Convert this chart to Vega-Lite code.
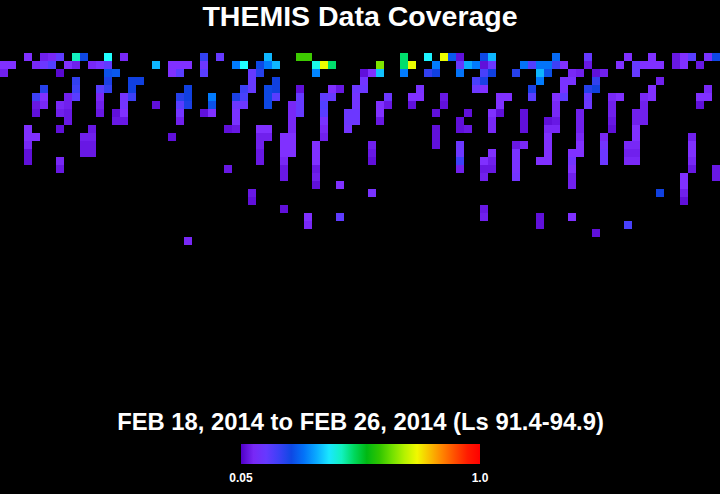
{"$schema":"https://vega.github.io/schema/vega-lite/v6.json","width":720,"height":360,"autosize":{"type":"none"},"padding":{"left":0,"top":53,"right":0,"bottom":81},"background":"#000000","title":{"text":"THEMIS Data Coverage","color":"#ffffff","font":"Liberation Sans","fontWeight":"bold","fontSize":28.5,"anchor":"middle","offset":22},"config":{"view":{"stroke":null}},"data":{"values":[
{"c":3,"r":0,"v":0.11},{"c":5,"r":0,"v":0.09},{"c":6,"r":0,"v":0.1},{"c":7,"r":0,"v":0.16},{"c":9,"r":0,"v":0.45},{"c":10,"r":0,"v":0.25},{"c":13,"r":0,"v":0.42},{"c":15,"r":0,"v":0.1},{"c":25,"r":0,"v":0.21},{"c":27,"r":0,"v":0.15},{"c":33,"r":0,"v":0.36},{"c":37,"r":0,"v":0.61},{"c":38,"r":0,"v":0.61},{"c":50,"r":0,"v":0.49},{"c":53,"r":0,"v":0.41},{"c":55,"r":0,"v":0.74},{"c":56,"r":0,"v":0.27},{"c":57,"r":0,"v":0.07},{"c":60,"r":0,"v":0.25},{"c":61,"r":0,"v":0.36},{"c":69,"r":0,"v":0.29},{"c":73,"r":0,"v":0.15},{"c":78,"r":0,"v":0.11},{"c":81,"r":0,"v":0.11},{"c":84,"r":0,"v":0.08},{"c":85,"r":0,"v":0.11},{"c":86,"r":0,"v":0.17},{"c":88,"r":0,"v":0.12},{"c":89,"r":0,"v":0.25},
{"c":0,"r":1,"v":0.11},{"c":1,"r":1,"v":0.11},{"c":4,"r":1,"v":0.1},{"c":5,"r":1,"v":0.14},{"c":6,"r":1,"v":0.18},{"c":8,"r":1,"v":0.11},{"c":9,"r":1,"v":0.09},{"c":11,"r":1,"v":0.1},{"c":12,"r":1,"v":0.12},{"c":13,"r":1,"v":0.16},{"c":19,"r":1,"v":0.36},{"c":21,"r":1,"v":0.11},{"c":22,"r":1,"v":0.11},{"c":23,"r":1,"v":0.11},{"c":25,"r":1,"v":0.14},{"c":29,"r":1,"v":0.31},{"c":30,"r":1,"v":0.42},{"c":32,"r":1,"v":0.25},{"c":33,"r":1,"v":0.31},{"c":34,"r":1,"v":0.36},{"c":39,"r":1,"v":0.43},{"c":40,"r":1,"v":0.74},{"c":41,"r":1,"v":0.49},{"c":47,"r":1,"v":0.66},{"c":50,"r":1,"v":0.49},{"c":51,"r":1,"v":0.74},{"c":54,"r":1,"v":0.31},{"c":57,"r":1,"v":0.15},{"c":58,"r":1,"v":0.35},{"c":59,"r":1,"v":0.31},{"c":60,"r":1,"v":0.07},{"c":61,"r":1,"v":0.14},{"c":65,"r":1,"v":0.3},{"c":66,"r":1,"v":0.18},{"c":67,"r":1,"v":0.3},{"c":68,"r":1,"v":0.3},{"c":69,"r":1,"v":0.2},{"c":70,"r":1,"v":0.11},{"c":73,"r":1,"v":0.08},{"c":77,"r":1,"v":0.11},{"c":79,"r":1,"v":0.15},{"c":80,"r":1,"v":0.11},{"c":81,"r":1,"v":0.11},{"c":82,"r":1,"v":0.11},{"c":84,"r":1,"v":0.08},{"c":85,"r":1,"v":0.11},{"c":87,"r":1,"v":0.08},
{"c":0,"r":2,"v":0.09},{"c":7,"r":2,"v":0.06},{"c":13,"r":2,"v":0.26},{"c":14,"r":2,"v":0.27},{"c":21,"r":2,"v":0.11},{"c":22,"r":2,"v":0.17},{"c":25,"r":2,"v":0.17},{"c":31,"r":2,"v":0.15},{"c":32,"r":2,"v":0.22},{"c":39,"r":2,"v":0.32},{"c":45,"r":2,"v":0.07},{"c":46,"r":2,"v":0.11},{"c":47,"r":2,"v":0.37},{"c":50,"r":2,"v":0.31},{"c":53,"r":2,"v":0.21},{"c":54,"r":2,"v":0.24},{"c":57,"r":2,"v":0.3},{"c":60,"r":2,"v":0.19},{"c":61,"r":2,"v":0.24},{"c":64,"r":2,"v":0.22},{"c":67,"r":2,"v":0.36},{"c":68,"r":2,"v":0.26},{"c":71,"r":2,"v":0.1},{"c":72,"r":2,"v":0.09},{"c":74,"r":2,"v":0.07},{"c":75,"r":2,"v":0.09},{"c":79,"r":2,"v":0.15},
{"c":9,"r":3,"v":0.21},{"c":13,"r":3,"v":0.23},{"c":16,"r":3,"v":0.24},{"c":17,"r":3,"v":0.24},{"c":31,"r":3,"v":0.15},{"c":34,"r":3,"v":0.24},{"c":45,"r":3,"v":0.13},{"c":59,"r":3,"v":0.19},{"c":60,"r":3,"v":0.23},{"c":67,"r":3,"v":0.31},{"c":70,"r":3,"v":0.12},{"c":71,"r":3,"v":0.12},{"c":74,"r":3,"v":0.21},{"c":82,"r":3,"v":0.09},
{"c":5,"r":4,"v":0.22},{"c":9,"r":4,"v":0.2},{"c":12,"r":4,"v":0.17},{"c":13,"r":4,"v":0.21},{"c":16,"r":4,"v":0.24},{"c":23,"r":4,"v":0.24},{"c":30,"r":4,"v":0.2},{"c":31,"r":4,"v":0.15},{"c":33,"r":4,"v":0.25},{"c":34,"r":4,"v":0.24},{"c":37,"r":4,"v":0.07},{"c":41,"r":4,"v":0.11},{"c":42,"r":4,"v":0.08},{"c":44,"r":4,"v":0.14},{"c":45,"r":4,"v":0.14},{"c":52,"r":4,"v":0.12},{"c":59,"r":4,"v":0.14},{"c":60,"r":4,"v":0.11},{"c":66,"r":4,"v":0.23},{"c":70,"r":4,"v":0.12},{"c":73,"r":4,"v":0.22},{"c":74,"r":4,"v":0.24},{"c":81,"r":4,"v":0.11},{"c":88,"r":4,"v":0.1},
{"c":4,"r":5,"v":0.2},{"c":5,"r":5,"v":0.11},{"c":8,"r":5,"v":0.09},{"c":9,"r":5,"v":0.17},{"c":12,"r":5,"v":0.1},{"c":15,"r":5,"v":0.13},{"c":16,"r":5,"v":0.2},{"c":22,"r":5,"v":0.22},{"c":23,"r":5,"v":0.24},{"c":26,"r":5,"v":0.31},{"c":29,"r":5,"v":0.23},{"c":30,"r":5,"v":0.19},{"c":33,"r":5,"v":0.25},{"c":34,"r":5,"v":0.17},{"c":37,"r":5,"v":0.15},{"c":40,"r":5,"v":0.16},{"c":41,"r":5,"v":0.15},{"c":44,"r":5,"v":0.13},{"c":48,"r":5,"v":0.14},{"c":51,"r":5,"v":0.11},{"c":52,"r":5,"v":0.11},{"c":55,"r":5,"v":0.08},{"c":62,"r":5,"v":0.11},{"c":63,"r":5,"v":0.11},{"c":66,"r":5,"v":0.17},{"c":69,"r":5,"v":0.11},{"c":70,"r":5,"v":0.16},{"c":73,"r":5,"v":0.15},{"c":76,"r":5,"v":0.1},{"c":77,"r":5,"v":0.11},{"c":80,"r":5,"v":0.1},{"c":81,"r":5,"v":0.11},{"c":87,"r":5,"v":0.11},{"c":88,"r":5,"v":0.11},
{"c":4,"r":6,"v":0.08},{"c":5,"r":6,"v":0.1},{"c":7,"r":6,"v":0.1},{"c":8,"r":6,"v":0.09},{"c":12,"r":6,"v":0.09},{"c":15,"r":6,"v":0.13},{"c":19,"r":6,"v":0.07},{"c":22,"r":6,"v":0.17},{"c":23,"r":6,"v":0.23},{"c":26,"r":6,"v":0.26},{"c":29,"r":6,"v":0.14},{"c":30,"r":6,"v":0.14},{"c":33,"r":6,"v":0.25},{"c":36,"r":6,"v":0.1},{"c":37,"r":6,"v":0.15},{"c":40,"r":6,"v":0.18},{"c":44,"r":6,"v":0.13},{"c":47,"r":6,"v":0.11},{"c":48,"r":6,"v":0.08},{"c":51,"r":6,"v":0.07},{"c":55,"r":6,"v":0.07},{"c":62,"r":6,"v":0.11},{"c":69,"r":6,"v":0.1},{"c":73,"r":6,"v":0.14},{"c":76,"r":6,"v":0.09},{"c":80,"r":6,"v":0.09},{"c":87,"r":6,"v":0.07},
{"c":4,"r":7,"v":0.07},{"c":7,"r":7,"v":0.09},{"c":8,"r":7,"v":0.08},{"c":12,"r":7,"v":0.08},{"c":14,"r":7,"v":0.07},{"c":15,"r":7,"v":0.11},{"c":22,"r":7,"v":0.13},{"c":25,"r":7,"v":0.07},{"c":26,"r":7,"v":0.11},{"c":29,"r":7,"v":0.12},{"c":36,"r":7,"v":0.1},{"c":37,"r":7,"v":0.15},{"c":40,"r":7,"v":0.17},{"c":43,"r":7,"v":0.14},{"c":44,"r":7,"v":0.14},{"c":47,"r":7,"v":0.11},{"c":54,"r":7,"v":0.07},{"c":58,"r":7,"v":0.07},{"c":61,"r":7,"v":0.11},{"c":62,"r":7,"v":0.07},{"c":65,"r":7,"v":0.07},{"c":69,"r":7,"v":0.1},{"c":72,"r":7,"v":0.09},{"c":76,"r":7,"v":0.09},{"c":79,"r":7,"v":0.09},{"c":80,"r":7,"v":0.09},
{"c":8,"r":8,"v":0.08},{"c":14,"r":8,"v":0.08},{"c":15,"r":8,"v":0.08},{"c":22,"r":8,"v":0.09},{"c":29,"r":8,"v":0.12},{"c":36,"r":8,"v":0.1},{"c":40,"r":8,"v":0.12},{"c":43,"r":8,"v":0.14},{"c":44,"r":8,"v":0.14},{"c":47,"r":8,"v":0.08},{"c":57,"r":8,"v":0.07},{"c":61,"r":8,"v":0.1},{"c":65,"r":8,"v":0.07},{"c":68,"r":8,"v":0.07},{"c":69,"r":8,"v":0.08},{"c":72,"r":8,"v":0.09},{"c":76,"r":8,"v":0.08},{"c":79,"r":8,"v":0.09},{"c":80,"r":8,"v":0.09},
{"c":3,"r":9,"v":0.11},{"c":7,"r":9,"v":0.07},{"c":11,"r":9,"v":0.08},{"c":28,"r":9,"v":0.07},{"c":29,"r":9,"v":0.08},{"c":32,"r":9,"v":0.11},{"c":33,"r":9,"v":0.11},{"c":36,"r":9,"v":0.1},{"c":40,"r":9,"v":0.1},{"c":43,"r":9,"v":0.13},{"c":54,"r":9,"v":0.07},{"c":57,"r":9,"v":0.07},{"c":58,"r":9,"v":0.08},{"c":61,"r":9,"v":0.1},{"c":65,"r":9,"v":0.07},{"c":68,"r":9,"v":0.1},{"c":69,"r":9,"v":0.1},{"c":72,"r":9,"v":0.09},{"c":76,"r":9,"v":0.07},{"c":79,"r":9,"v":0.11},
{"c":3,"r":10,"v":0.11},{"c":4,"r":10,"v":0.11},{"c":10,"r":10,"v":0.09},{"c":11,"r":10,"v":0.09},{"c":21,"r":10,"v":0.07},{"c":32,"r":10,"v":0.09},{"c":33,"r":10,"v":0.09},{"c":35,"r":10,"v":0.11},{"c":36,"r":10,"v":0.11},{"c":40,"r":10,"v":0.09},{"c":54,"r":10,"v":0.07},{"c":68,"r":10,"v":0.11},{"c":72,"r":10,"v":0.1},{"c":75,"r":10,"v":0.1},{"c":79,"r":10,"v":0.11},{"c":86,"r":10,"v":0.09},
{"c":3,"r":11,"v":0.1},{"c":10,"r":11,"v":0.08},{"c":11,"r":11,"v":0.08},{"c":32,"r":11,"v":0.09},{"c":35,"r":11,"v":0.11},{"c":36,"r":11,"v":0.11},{"c":39,"r":11,"v":0.11},{"c":46,"r":11,"v":0.09},{"c":54,"r":11,"v":0.07},{"c":57,"r":11,"v":0.14},{"c":64,"r":11,"v":0.08},{"c":65,"r":11,"v":0.1},{"c":68,"r":11,"v":0.11},{"c":72,"r":11,"v":0.11},{"c":75,"r":11,"v":0.13},{"c":78,"r":11,"v":0.1},{"c":79,"r":11,"v":0.1},{"c":86,"r":11,"v":0.11},
{"c":3,"r":12,"v":0.07},{"c":10,"r":12,"v":0.08},{"c":11,"r":12,"v":0.08},{"c":32,"r":12,"v":0.08},{"c":35,"r":12,"v":0.11},{"c":36,"r":12,"v":0.11},{"c":39,"r":12,"v":0.11},{"c":46,"r":12,"v":0.08},{"c":57,"r":12,"v":0.14},{"c":61,"r":12,"v":0.11},{"c":64,"r":12,"v":0.12},{"c":68,"r":12,"v":0.11},{"c":71,"r":12,"v":0.11},{"c":72,"r":12,"v":0.11},{"c":75,"r":12,"v":0.14},{"c":78,"r":12,"v":0.09},{"c":79,"r":12,"v":0.09},{"c":86,"r":12,"v":0.11},
{"c":3,"r":13,"v":0.07},{"c":7,"r":13,"v":0.1},{"c":32,"r":13,"v":0.08},{"c":35,"r":13,"v":0.1},{"c":39,"r":13,"v":0.11},{"c":46,"r":13,"v":0.07},{"c":57,"r":13,"v":0.2},{"c":60,"r":13,"v":0.11},{"c":61,"r":13,"v":0.09},{"c":64,"r":13,"v":0.12},{"c":67,"r":13,"v":0.11},{"c":68,"r":13,"v":0.11},{"c":71,"r":13,"v":0.13},{"c":75,"r":13,"v":0.14},{"c":78,"r":13,"v":0.1},{"c":79,"r":13,"v":0.1},{"c":86,"r":13,"v":0.1},
{"c":7,"r":14,"v":0.08},{"c":28,"r":14,"v":0.08},{"c":35,"r":14,"v":0.08},{"c":39,"r":14,"v":0.08},{"c":57,"r":14,"v":0.09},{"c":60,"r":14,"v":0.08},{"c":61,"r":14,"v":0.08},{"c":64,"r":14,"v":0.12},{"c":71,"r":14,"v":0.11},{"c":86,"r":14,"v":0.08},{"c":89,"r":14,"v":0.08},
{"c":35,"r":15,"v":0.08},{"c":39,"r":15,"v":0.09},{"c":60,"r":15,"v":0.09},{"c":64,"r":15,"v":0.13},{"c":71,"r":15,"v":0.09},{"c":85,"r":15,"v":0.11},{"c":89,"r":15,"v":0.08},
{"c":39,"r":16,"v":0.07},{"c":42,"r":16,"v":0.11},{"c":71,"r":16,"v":0.09},{"c":85,"r":16,"v":0.11},
{"c":31,"r":17,"v":0.08},{"c":46,"r":17,"v":0.12},{"c":82,"r":17,"v":0.24},{"c":85,"r":17,"v":0.09},
{"c":31,"r":18,"v":0.07},{"c":85,"r":18,"v":0.07},
{"c":35,"r":19,"v":0.07},{"c":60,"r":19,"v":0.08},
{"c":38,"r":20,"v":0.11},{"c":42,"r":20,"v":0.16},{"c":60,"r":20,"v":0.09},{"c":67,"r":20,"v":0.07},{"c":71,"r":20,"v":0.11},
{"c":38,"r":21,"v":0.1},{"c":67,"r":21,"v":0.07},{"c":78,"r":21,"v":0.19},
{"c":74,"r":22,"v":0.07},
{"c":23,"r":23,"v":0.1}
]},"mark":{"type":"rect","width":8,"height":8},"encoding":{"x":{"field":"c","type":"quantitative","scale":{"domain":[-0.5,89.5],"nice":false,"zero":false},"axis":{"title":"FEB 18, 2014 to FEB 26, 2014 (Ls 91.4-94.9)","titleColor":"#ffffff","titleFont":"Liberation Sans","titleFontWeight":"bold","titleFontSize":23.8,"titlePadding":-3,"labels":false,"ticks":false,"domain":false,"grid":false}},"y":{"field":"r","type":"quantitative","scale":{"domain":[-0.5,44.5],"reverse":true,"nice":false,"zero":false},"axis":null},"color":{"field":"v","type":"quantitative","scale":{"domain":[0.05,0.11,0.183,0.24,0.316,0.42,0.487,0.563,0.649,0.744,0.839,0.943,1],"range":["#5000c8","#8030ff","#5040ff","#1040e0","#0080ff","#20ffff","#00e070","#00b000","#70e000","#f0ff00","#ff9000","#ff2000","#ff0000"],"interpolate":"rgb"},"legend":{"orient":"none","legendX":241,"legendY":391,"direction":"horizontal","title":null,"padding":0,"gradientLength":239,"gradientThickness":20,"gradientStrokeWidth":0,"values":[0.05,1],"labelExpr":"datum.value==1?'1.0':'0.05'","labelColor":"#ffffff","labelFont":"Liberation Sans","labelFontWeight":"bold","labelFontSize":12,"labelOffset":9,"labelOverlap":false,"encode":{"labels":{"update":{"align":{"value":"center"}}}}}}}}
